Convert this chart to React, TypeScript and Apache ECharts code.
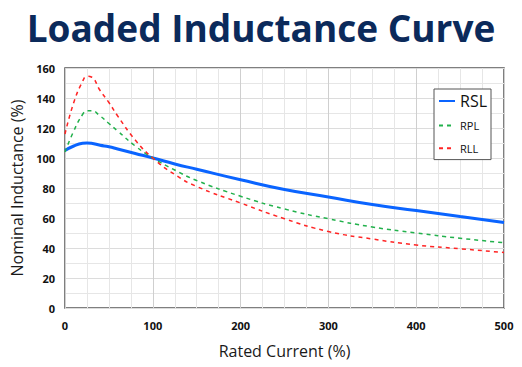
import React, { useEffect, useRef } from "react";
import * as echarts from "echarts";

const xValues = [0, 10, 20, 25, 30, 40, 50, 60, 80, 100, 125, 150, 200, 250, 300, 350, 400, 450, 500];
const rslValues = [105, 108, 109.8, 110, 109.8, 108.5, 107.5, 106, 103, 100, 96, 92.5, 85.5, 79, 74, 69, 65, 61, 57];
const rplValues = [104, 118, 129, 131.5, 131.5, 128, 123, 118, 108, 100, 92, 85, 74.5, 66, 59.5, 54, 50, 46.5, 43.5];
const rllValues = [116, 137, 151, 154.5, 154, 145, 137, 128, 112, 100, 89, 81, 70, 59.5, 51, 46, 42, 39.5, 37];
const seriesNames = ["RSL", "RPL", "RLL"];

const pairs = (ys: number[]) => xValues.map((x, i) => [x, ys[i]]);

export default function App() {
  const ref = useRef<HTMLDivElement>(null);
  useEffect(() => {
    if (!ref.current) return;
    const chart = echarts.init(ref.current, null, { renderer: "svg" });
    const font = "'Open Sans', 'Noto Sans', sans-serif";
    chart.setOption({
      animation: false,
      title: {
        text: "Loaded Inductance Curve",
        left: "center",
        top: 5,
        padding: [0, 0, 0, 4],
        textStyle: { fontFamily: font, fontSize: 37, fontWeight: "bold", color: "#0b2a5b", lineHeight: 44 },
      },
      legend: {
        orient: "vertical",
        left: 434,
        top: 89,
        padding: [4, 4, 5, 4],
        itemGap: 10,
        itemWidth: 16,
        itemHeight: 16,
        borderColor: "#555",
        borderWidth: 1,
        backgroundColor: "#fff",
        data: seriesNames,
        itemStyle: { color: "transparent", borderWidth: 0, opacity: 0 },
        formatter: (n: string) => (n === "RSL" ? `{big|${n}}` : `{small|${n}}`),
        textStyle: {
          fontFamily: font,
          color: "#111",
          rich: {
            big: { fontSize: 16, fontFamily: font, color: "#111" },
            small: { fontSize: 11, fontFamily: font, color: "#111" },
          },
        },
      },
      grid: {
        left: 65,
        right: 18,
        top: 68,
        bottom: 59,
        show: true,
        borderColor: "#555",
        borderWidth: 1.5,
      },
      xAxis: {
        type: "value",
        min: 0,
        max: 500,
        interval: 100,
        name: "Rated Current (%)",
        nameLocation: "middle",
        nameGap: 35,
        nameTextStyle: { fontFamily: font, fontSize: 16, color: "#1a1a1a" },
        axisLine: { show: false },
        axisTick: { show: false },
        axisLabel: { fontFamily: font, fontSize: 11, fontWeight: "bold", color: "#111", margin: 12 },
        splitLine: { show: true, lineStyle: { color: "#cfcfcf", width: 1 } },
        minorTick: { show: false, splitNumber: 4 },
        minorSplitLine: { show: true, lineStyle: { color: "#e6e6e6", width: 1 } },
      },
      yAxis: {
        type: "value",
        min: 0,
        max: 160,
        interval: 20,
        name: "Nominal Inductance (%)",
        nameLocation: "middle",
        nameGap: 34,
        nameTextStyle: { fontFamily: font, fontSize: 16, color: "#1a1a1a" },
        axisLine: { show: false },
        axisTick: { show: false },
        axisLabel: { fontFamily: font, fontSize: 11, fontWeight: "bold", color: "#111", margin: 10 },
        splitLine: { show: true, lineStyle: { color: "#dcdcdc", width: 1 } },
        minorTick: { show: false, splitNumber: 2 },
        minorSplitLine: { show: true, lineStyle: { color: "#e6e6e6", width: 1 } },
      },
      series: [
        {
          name: "RSL",
          type: "line",
          smooth: true,
          symbol: "none",
          data: pairs(rslValues),
          lineStyle: { color: "#0a64ff", width: 3 },
          itemStyle: { color: "#0a64ff" },
          z: 3,
        },
        {
          name: "RPL",
          type: "line",
          smooth: true,
          symbol: "none",
          data: pairs(rplValues),
          lineStyle: { color: "#22b14c", width: 1.5, type: [4, 4] },
          itemStyle: { color: "#22b14c" },
        },
        {
          name: "RLL",
          type: "line",
          smooth: true,
          symbol: "none",
          data: pairs(rllValues),
          lineStyle: { color: "#ff2424", width: 1.5, type: [4, 4] },
          itemStyle: { color: "#ff2424" },
        },
      ],
    });
    return () => chart.dispose();
  }, []);
  return <div ref={ref} style={{ width: 522, height: 367, position: "absolute", left: 0, top: 0, background: "#fff" }} />;
}
